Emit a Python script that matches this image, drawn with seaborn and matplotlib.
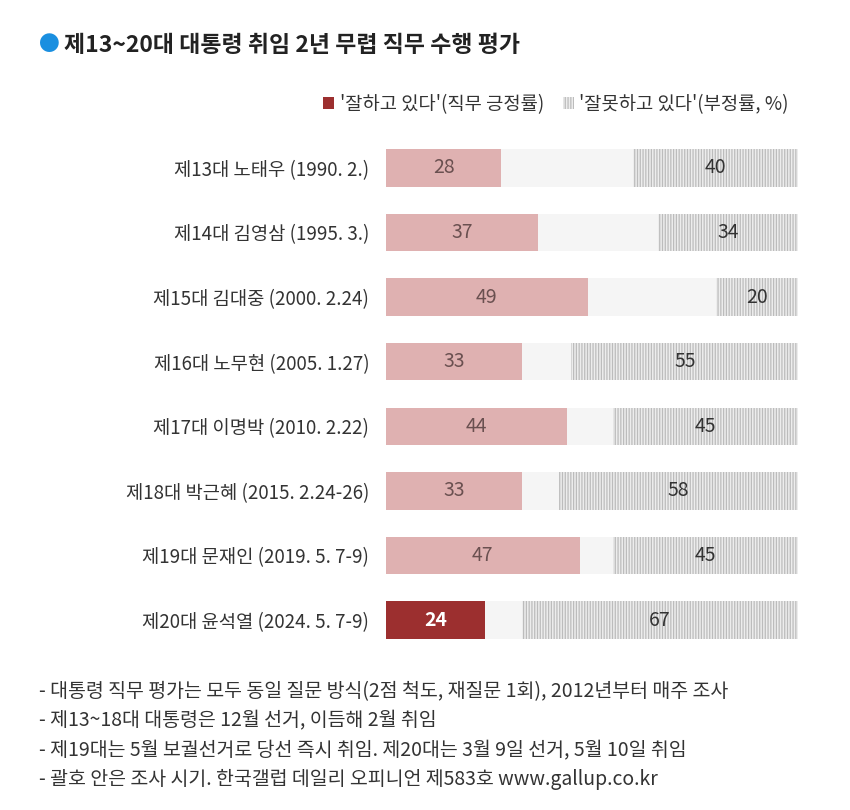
import pandas as pd
import matplotlib.pyplot as plt
import matplotlib.patches as mpatches
import seaborn as sns

presidents = ['제13대 노태우 (1990. 2.)', '제14대 김영삼 (1995. 3.)', '제15대 김대중 (2000. 2.24)',
              '제16대 노무현 (2005. 1.27)', '제17대 이명박 (2010. 2.22)', '제18대 박근혜 (2015. 2.24-26)',
              '제19대 문재인 (2019. 5. 7-9)', '제20대 윤석열 (2024. 5. 7-9)']
positive = [28, 37, 49, 33, 44, 33, 47, 24]
negative = [40, 34, 20, 55, 45, 58, 45, 67]

notes = [
    '- 대통령 직무 평가는 모두 동일 질문 방식(2점 척도, 재질문 1회), 2012년부터 매주 조사',
    '- 제13~18대 대통령은 12월 선거, 이듬해 2월 취임',
    '- 제19대는 5월 보궐선거로 당선 즉시 취임. 제20대는 3월 9일 선거, 5월 10일 취임',
    '- 괄호 안은 조사 시기. 한국갤럽 데일리 오피니언 제583호 www.gallup.co.kr',
]

sns.set_theme(style='white')
plt.rcParams['font.family'] = ['Noto Sans CJK KR', 'DejaVu Sans']
plt.rcParams['hatch.linewidth'] = 0.9

df = pd.DataFrame({'president': presidents, 'pos': positive, 'neg': negative})
df['full'] = 100
df['rest'] = 100 - df['neg']

fig = plt.figure(figsize=(8.5, 8.1), dpi=100)
ax = fig.add_axes([0.454, 0.1947, 0.485, 0.6378])

PINK = '#dfb1b1'
DARK = '#9c2f2f'
HATCH_EDGE = '#bcbcbc'
BG = '#f5f5f5'

# hatched full bar, then cover the non-negative part, then the positive bar
sns.barplot(data=df, x='full', y='president', orient='h', color='#ededed', width=0.58,
            saturation=1, ax=ax)
for p in ax.patches:
    p.set_hatch('||||||')
    p.set_edgecolor(HATCH_EDGE)
    p.set_linewidth(0)
n0 = len(ax.patches)
sns.barplot(data=df, x='rest', y='president', orient='h', color=BG, width=0.58,
            saturation=1, ax=ax)
colors = [PINK] * (len(df) - 1) + [DARK]
sns.barplot(data=df, x='pos', y='president', orient='h', hue='president', palette=colors,
            width=0.58, saturation=1, legend=False, ax=ax)
for p in ax.patches[n0:]:
    p.set_linewidth(0)

for i, (pv, nv) in enumerate(zip(positive, negative)):
    last = i == len(df) - 1
    ax.text(pv / 2, i, str(pv), ha='center', va='center', fontsize=14,
            color='white' if last else '#6a5050', fontweight='bold' if last else 'normal')
    ax.text(100 - nv / 2, i, str(nv), ha='center', va='center', fontsize=14, color='#333333')

ax.set_xlim(0, 100)
ax.set_ylim(7.5, -0.5)
ax.set_xlabel('')
ax.set_ylabel('')
ax.set_xticks([])
ax.tick_params(axis='y', length=0, pad=12, labelsize=13.5, labelcolor='#333333')
sns.despine(ax=ax, left=True, bottom=True)

# title
fig.text(0.046, 0.944, '●', fontsize=15, color='#1a8fe0', ha='left', va='center')
fig.text(0.075, 0.944, '제13~20대 대통령 취임 2년 무렵 직무 수행 평가', fontsize=16.5,
         fontweight='bold', color='#222222', ha='left', va='center')

# legend
handles = [mpatches.Patch(facecolor=DARK, edgecolor=DARK, linewidth=0),
           mpatches.Patch(facecolor='#ededed', edgecolor=HATCH_EDGE, hatch='||||||', linewidth=0)]
fig.legend(handles, ["'잘하고 있다'(직무 긍정률)", "'잘못하고 있다'(부정률, %)"],
           loc='center right', bbox_to_anchor=(0.948, 0.871), ncol=2, frameon=False,
           fontsize=13.5, handlelength=0.6, handleheight=0.6, handletextpad=0.3,
           columnspacing=1.0, labelcolor='#333333')

for k, line in enumerate(notes):
    fig.text(0.046, 0.146 - k * 0.0362, line, fontsize=14, color='#333333',
             ha='left', va='center')

fig.savefig('out.png', dpi=100, facecolor='white')
